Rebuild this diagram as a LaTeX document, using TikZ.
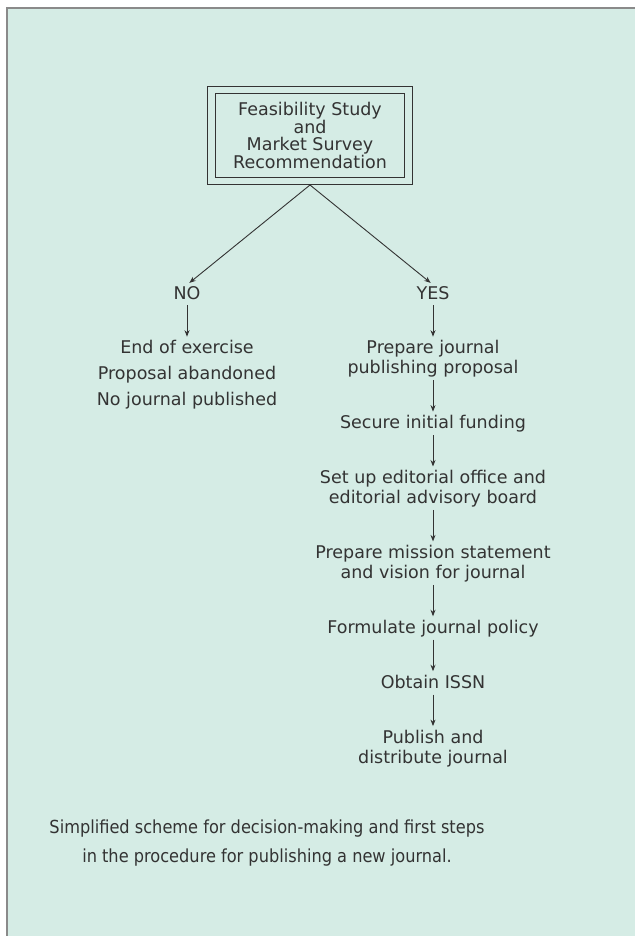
\documentclass[tikz,border=0pt]{standalone}
\usepackage{fontspec}
\setmainfont{DejaVu Sans}
\newfontfamily\notefont{DejaVu Sans Condensed}
\usetikzlibrary{positioning,arrows.meta}
\definecolor{panelbg}{HTML}{D5ECE5}
\definecolor{panelrule}{HTML}{8A8A8A}
\definecolor{inkgrey}{HTML}{333333}

\begin{document}
\begin{tikzpicture} [x=1pt,y=1pt,shorten >=3pt,node distance=34.5pt,auto,>={Stealth[length=6.5pt,width=5pt]},
                    stepnode/.style={inner sep=0pt,align=center,text=inkgrey,font=\fontsize{17.5}{20}\selectfont},
                    studybox/.style={draw=inkgrey,line width=0.9pt,double=panelbg,double distance=6.8pt,
                      minimum width=196.5pt,minimum height=91pt,outer sep=4pt,
                      align=center,text=inkgrey,font=\fontsize{17.5}{16.7}\selectfont},
                    notebox/.style={inner sep=0pt,align=center,text=inkgrey,font=\notefont\fontsize{18}{29}\selectfont},
                    flow/.style={->,draw=inkgrey,line width=0.9pt}]
                    % Panel
                    \useasboundingbox (0,0) rectangle (635,-936);
                    \fill[panelbg] (7,-8) rectangle (635,-936);
                    \draw[panelrule,line width=1.5pt,shorten >=0pt] (7,-936) |- (635,-8);

                    % Nodes
                    \node[studybox] (S0) at (310,-135.5) {Feasibility Study\\and\\Market Survey\\Recommendation};
                    \node[stepnode] (N1) at (187,-295) {NO\strut};
                    \node[stepnode] (Y1) at (433,-295) {YES\strut};
                    \node[stepnode] (N2) [below=of N1] {End of exercise\strut\\[6pt]Proposal abandoned\strut\\[6pt]No journal published\strut};
                    \node[stepnode] (Y2) [below=of Y1] {Prepare journal\strut\\publishing proposal\strut};
                    \node[stepnode] (Y3) [below=of Y2] {Secure initial funding\strut};
                    \node[stepnode] (Y4) [below=of Y3] {Set up editorial office and\strut\\editorial advisory board\strut};
                    \node[stepnode] (Y5) [below=of Y4] {Prepare mission statement\strut\\and vision for journal\strut};
                    \node[stepnode] (Y6) [below=of Y5] {Formulate journal policy\strut};
                    \node[stepnode] (Y7) [below=of Y6] {Obtain ISSN\strut};
                    \node[stepnode] (Y8) [below=of Y7] {Publish and\strut\\distribute journal\strut};
                    \node[notebox] (C1) at (267,-843) {Simplified scheme for decision-making and first steps\\in the procedure for publishing a new journal.};

                    % Arrows
                    \draw[flow] (S0.south) -- (N1.north);
                    \draw[flow] (S0.south) -- (Y1.north);
                    \draw[flow] (N1.south) -- (N2.north);
                    \foreach \a/\b in {Y1/Y2,Y2/Y3,Y3/Y4,Y4/Y5,Y5/Y6,Y6/Y7,Y7/Y8}
                      \draw[flow] (\a.south) -- (\b.north);
                \end{tikzpicture}
\end{document}
